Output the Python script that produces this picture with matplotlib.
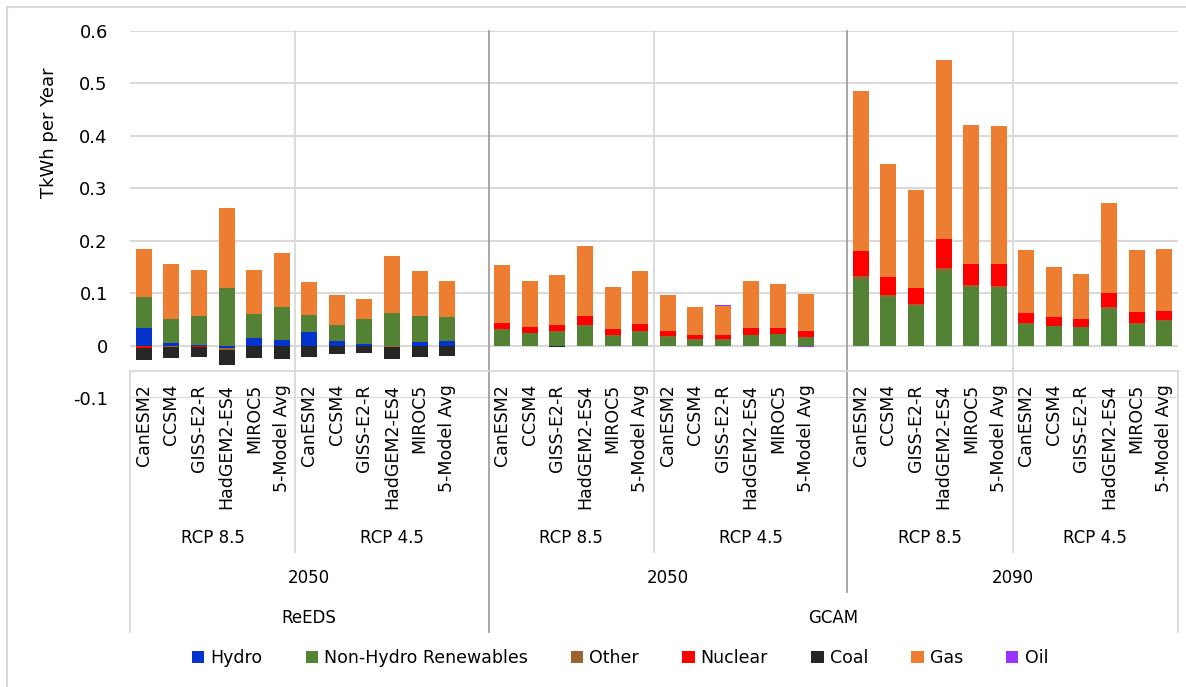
import numpy as np
import matplotlib
matplotlib.use('Agg')
import matplotlib.pyplot as plt
from matplotlib.patches import Patch, Rectangle
from matplotlib.transforms import blended_transform_factory

# categories as in the sheet ('' = empty spacer category)
models = ['CanESM2', 'CCSM4', 'GISS-E2-R', 'HadGEM2-ES4', 'MIROC5', '5-Model Avg']
cats = (models + models + [''] + models + models + [''] + models + models)
scenarios = ['RCP 8.5', 'RCP 4.5', 'RCP 8.5', 'RCP 4.5', 'RCP 8.5', 'RCP 4.5']
years = ['2050', '2050', '2090']
tools = ['ReEDS', 'GCAM']

# values (TkWh per year), 38 categories incl. 2 empty ones
hydro = [0.034, 0.004, 0.002, -0.005, 0.015, 0.010,
         0.025, 0.008, 0.003, 0.0, 0.006, 0.008, 0,
         0, 0, 0, 0, 0, 0,
         0, 0, 0, 0, 0, 0, 0,
         0, 0, 0, 0, 0, 0,
         0, 0, 0, 0, 0, 0]
renew = [0.058, 0.046, 0.054, 0.110, 0.046, 0.063,
         0.034, 0.032, 0.047, 0.063, 0.051, 0.046, 0,
         0.030, 0.0235, 0.026, 0.038, 0.019, 0.026,
         0.017, 0.0115, 0.0115, 0.020, 0.022, 0.015, 0,
         0.127, 0.092, 0.076, 0.142, 0.1115, 0.110,
         0.042, 0.037, 0.035, 0.0707, 0.042, 0.047]
other = [0, -0.002, 0, -0.003, 0, 0,
         0, 0, 0, -0.002, 0, 0, 0,
         0.001, 0.001, 0.001, 0.001, 0.001, 0.001,
         0.001, 0.001, 0.001, 0.001, 0.001, 0.001, 0,
         0.0055, 0.004, 0.003, 0.0065, 0.0035, 0.003,
         0.0015, 0.001, 0.001, 0.0023, 0.0015, 0.001]
nuclear = [-0.004, 0, -0.003, 0, 0, 0,
           0, 0, 0, 0, 0, 0, 0,
           0.013, 0.0115, 0.013, 0.018, 0.011, 0.015,
           0.009, 0.0085, 0.0085, 0.013, 0.011, 0.011, 0,
           0.0475, 0.035, 0.031, 0.0555, 0.041, 0.043,
           0.0185, 0.016, 0.014, 0.027, 0.0205, 0.018]
coal = [-0.023, -0.022, -0.019, -0.029, -0.024, -0.026,
        -0.021, -0.017, -0.015, -0.024, -0.022, -0.019, 0,
        0, 0, -0.002, 0, 0, 0,
        0, 0, 0, 0, 0, -0.001, 0,
        0, 0, 0, 0, 0, 0,
        0, 0, 0, 0, 0, 0]
gas = [0.093, 0.106, 0.089, 0.152, 0.084, 0.104,
       0.062, 0.056, 0.038, 0.107, 0.086, 0.069, 0,
       0.110, 0.087, 0.094, 0.132, 0.080, 0.101,
       0.069, 0.052, 0.055, 0.089, 0.083, 0.071, 0,
       0.306, 0.216, 0.186, 0.340, 0.265, 0.263,
       0.121, 0.096, 0.086, 0.171, 0.119, 0.119]
oil = [0, 0, 0, 0, 0, 0,
       0, 0, 0, 0, 0, 0, 0,
       -0.0015, -0.0015, 0, -0.0015, -0.0015, -0.0015,
       -0.0015, -0.0015, 0.0015, -0.0015, -0.0015, -0.0015, 0,
       0, 0, 0, 0, 0, 0,
       0, 0, 0, 0, 0, 0]

series = [('Hydro', hydro, '#0433CC'),
          ('Non-Hydro Renewables', renew, '#548235'),
          ('Other', other, '#9C6330'),
          ('Nuclear', nuclear, '#FF0000'),
          ('Coal', coal, '#262626'),
          ('Gas', gas, '#ED7D31'),
          ('Oil', oil, '#9933FF')]

W, H = 1186, 687


def fy(p):
    return 1 - p / H


fig = plt.figure(figsize=(W / 100, H / 100), dpi=100)
ax = fig.add_axes([130 / W, fy(398), 1048 / W, (398 - 31) / H])

x = np.arange(len(cats))
pos = np.zeros(len(cats))
neg = np.zeros(len(cats))
for name, vals, col in series:
    v = np.array(vals, dtype=float)
    bottom = np.where(v >= 0, pos, neg)
    ax.bar(x, v, 0.58, bottom=bottom, color=col, linewidth=0, zorder=3)
    pos = pos + np.where(v >= 0, v, 0)
    neg = neg + np.where(v < 0, v, 0)

ax.set_xlim(-0.5, len(cats) - 0.5)
ax.set_ylim(-0.1, 0.6)
ax.set_yticks(np.arange(-0.1, 0.61, 0.1))
ax.set_yticklabels(['-0.1', '0', '0.1', '0.2', '0.3', '0.4', '0.5', '0.6'])
ax.set_xticks([])
ax.yaxis.grid(True, color='#D9D9D9', lw=1.5)
ax.set_axisbelow(True)
for s in ax.spines.values():
    s.set_visible(False)
ax.tick_params(axis='y', length=0, pad=16, labelsize=13, colors='#000000')

fig.text(49 / W, fy(133), 'TkWh per Year', rotation=90, ha='center',
         va='center', fontsize=13)

# multi-level category axis
tr = blended_transform_factory(ax.transData, fig.transFigure)
light = '#D9D9D9'
dark = '#A0A0A0'


def vline(xv, y0, y1, col):
    ax.plot([xv, xv], [fy(y0), fy(y1)], color=col, lw=1.3, transform=tr,
            clip_on=False, zorder=1)


ax.plot([-0.5, len(cats) - 0.5], [fy(371), fy(371)], color=light, lw=1.3,
        transform=tr, clip_on=False)
vline(-0.5, 371, 632, light)
vline(len(cats) - 0.5, 371, 632, light)
for b in [5.5, 18.5, 31.5]:
    vline(b, 31, 552, light)
vline(12.5, 31, 632, dark)
vline(25.5, 31, 592, dark)

for i, c in enumerate(cats):
    if c:
        ax.text(i, fy(384), c, rotation=90, ha='center', va='top',
                fontsize=12.5, transform=tr)

scen_centers = [2.5, 9, 15.5, 22, 28.5, 34.5]
for cx, s in zip(scen_centers, scenarios):
    ax.text(cx, fy(538), s, ha='center', va='center', fontsize=12, transform=tr)
for cx, y in zip([6, 19, 31.5], years):
    ax.text(cx, fy(578), y, ha='center', va='center', fontsize=12, transform=tr)
for cx, t in zip([6, 25], tools):
    ax.text(cx, fy(618), t, ha='center', va='center', fontsize=12, transform=tr)

handles = [Patch(facecolor=col, edgecolor='none') for _, _, col in series]
fig.legend(handles, [n for n, _, _ in series], loc='center',
           bbox_to_anchor=(620 / W, fy(658)), ncol=7, frameon=False,
           fontsize=12.5, handlelength=0.7, handleheight=0.7,
           handletextpad=0.35, columnspacing=2.5)

fig.patches.append(Rectangle((7 / W, -0.2), 1.2, fy(7) + 0.2,
                             transform=fig.transFigure, fill=False,
                             ec='#D9D9D9', lw=1.5))

fig.savefig('out.png', dpi=100)
